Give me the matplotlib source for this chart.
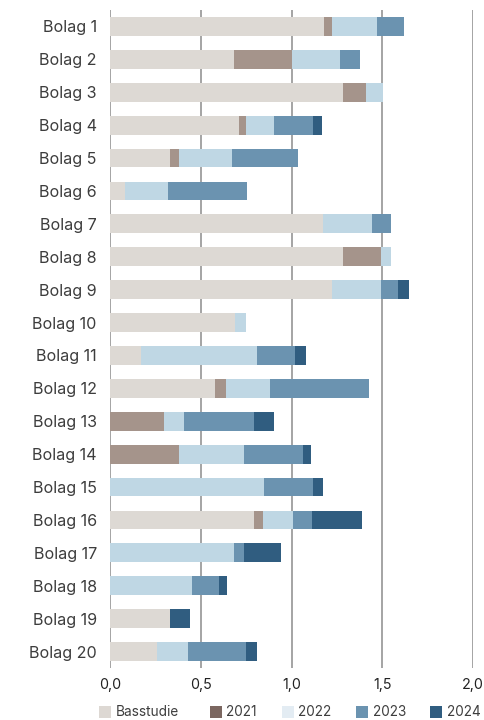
import matplotlib
matplotlib.use("Agg")
import matplotlib.pyplot as plt
from matplotlib.patches import Rectangle
import numpy as np

plt.rcParams['font.family'] = ['Inter', 'DejaVu Sans']

companies = [f"Bolag {i}" for i in range(1, 21)]
series_names = ["Basstudie", "2021", "2022", "2023", "2024"]

basstudie = [1.18, 0.68, 1.28, 0.71, 0.33, 0.08, 1.17, 1.28, 1.22, 0.69,
             0.17, 0.58, 0.00, 0.00, 0.00, 0.79, 0.00, 0.00, 0.33, 0.26]
y2021 = [0.04, 0.32, 0.13, 0.04, 0.05, 0.00, 0.00, 0.21, 0.00, 0.00,
         0.00, 0.06, 0.30, 0.38, 0.00, 0.05, 0.00, 0.00, 0.00, 0.00]
y2022 = [0.25, 0.265, 0.095, 0.155, 0.29, 0.24, 0.27, 0.055, 0.27, 0.06,
         0.64, 0.24, 0.105, 0.36, 0.85, 0.165, 0.68, 0.45, 0.00, 0.17]
y2023 = [0.15, 0.11, 0.00, 0.215, 0.365, 0.435, 0.105, 0.00, 0.095, 0.00,
         0.21, 0.545, 0.39, 0.32, 0.265, 0.105, 0.055, 0.15, 0.00, 0.32]
y2024 = [0.00, 0.00, 0.00, 0.045, 0.00, 0.00, 0.00, 0.00, 0.06, 0.00,
         0.06, 0.00, 0.11, 0.045, 0.06, 0.275, 0.205, 0.045, 0.11, 0.06]

xticks = [0.0, 0.5, 1.0, 1.5, 2.0]
xticklabels = ["0,0", "0,5", "1,0", "1,5", "2,0"]

bar_colors = ["#ddd9d4", "#a5948b", "#bfd7e4", "#6b93b0", "#305d80"]
legend_colors = ["#ddd8d3", "#7b6760", "#e3ecf3", "#6b93b0", "#305d80"]

W, H = 484, 720
fig = plt.figure(figsize=(W/100, H/100), dpi=100)
ax = fig.add_axes([110/W, 52/H, 363.3/W, 658/H])

y = np.arange(len(companies))
left = np.zeros(len(companies))
for vals, col in zip([basstudie, y2021, y2022, y2023, y2024], bar_colors):
    v = np.array(vals)
    ax.barh(y, v, left=left, height=0.57, color=col, zorder=3, linewidth=0)
    left += v

ax.set_xlim(0, 2.0)
ax.set_ylim(19.5, -0.5)
ax.set_yticks(y)
ax.set_yticklabels(companies, fontsize=11.6, color="#3d3d3d")
ax.set_xticks(xticks)
ax.set_xticklabels(xticklabels, fontsize=10.3, color="#222222")
ax.tick_params(axis='y', length=0, pad=9.5)
ax.tick_params(axis='x', length=0, pad=7.5)
for s in ax.spines.values():
    s.set_visible(False)
for xv in xticks:
    ax.axvline(xv, color="#8c8c8c", lw=1.1, zorder=1)

# legend, placed manually
sq_x = [99, 210, 282, 356, 430]
txt_x = [116, 226, 298, 373, 447]
ly = 712
for name, c, sx, tx in zip(series_names, legend_colors, sq_x, txt_x):
    fig.add_artist(Rectangle((sx/W, (H-ly-6)/H), 12/W, 12/H, facecolor=c,
                             edgecolor='none', transform=fig.transFigure))
    fig.text(tx/W, (H-ly)/H, name, fontsize=9.8, color="#3d3d3d",
             ha='left', va='center')

fig.savefig("out.png", dpi=100)
